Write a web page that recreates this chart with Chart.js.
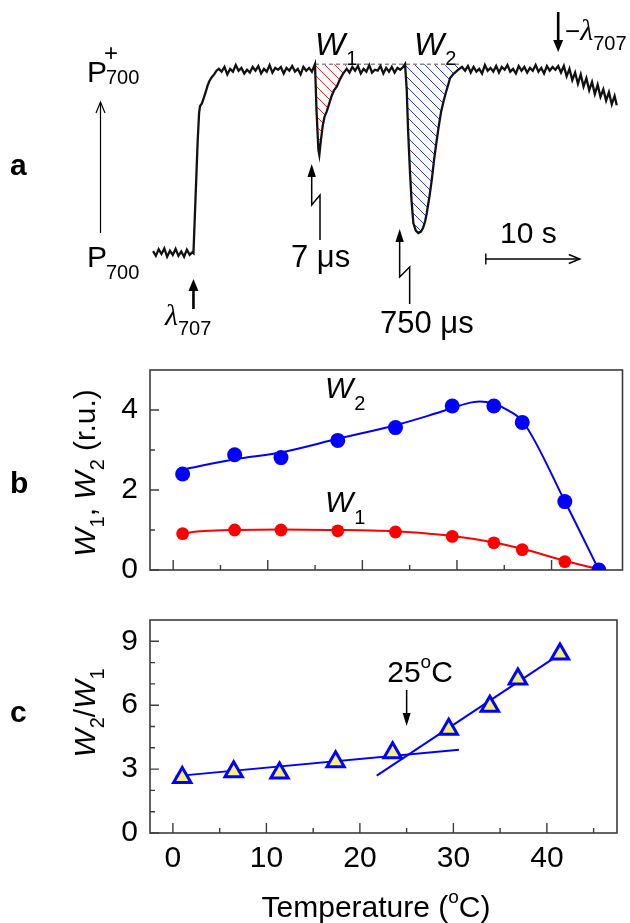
<!DOCTYPE html>
<html><head><meta charset="utf-8">
<script src="https://cdn.jsdelivr.net/npm/chart.js@4.4.1/dist/chart.umd.min.js"></script>
<style>
html,body{margin:0;padding:0;background:#fff;}
#wrap{position:relative;width:630px;height:923px;overflow:hidden;background:#fff;}
canvas{position:absolute;left:0;}
</style></head><body>
<div id="wrap">
<canvas id="ca" width="630" height="340" style="top:0;width:630px;height:340px"></canvas>
<canvas id="cb" width="630" height="260" style="top:340px;width:630px;height:260px"></canvas>
<canvas id="cc" width="630" height="333" style="top:590px;width:630px;height:333px"></canvas>
</div>
<script>
// ================= DATA =================
// Panel a: P700 trace, time (s) and relative oxidation level (0 = P700, 1 = P700+)
const traceT = [
  0,0.3,0.6,0.9,1.2,1.5,1.8,2.1,2.4,2.7,3.0,3.3,3.6,3.9,4.2,
  4.3,4.45,4.6,4.75,4.9,5.0,5.2,5.4,5.6,5.8,6.0,6.25,6.5,6.75,7.0,
  7.3,7.6,7.9,8.2,8.5,8.8,9.1,9.4,9.7,10.0,10.3,10.6,10.9,11.2,11.5,11.8,12.1,12.4,12.7,13.0,13.3,13.6,13.9,14.2,14.5,14.8,15.1,15.4,15.7,16.0,16.3,16.6,16.9,
  17.23,17.39,17.59,17.69,17.85,18.05,18.25,18.47,18.75,19.0,19.25,19.54,19.9,20.24,20.6,
  20.9,21.2,21.5,21.8,22.1,22.4,22.7,23.0,23.3,23.6,23.9,24.2,24.5,24.8,25.1,25.4,25.7,26.0,26.3,26.6,
  26.81,26.99,27.13,27.34,27.5,27.69,27.95,28.22,28.5,28.72,28.95,29.12,29.4,29.65,29.9,30.18,30.4,30.64,30.9,31.17,31.4,31.6,32.0,32.45,32.87,
  33.2,33.5,33.8,34.1,34.4,34.7,35.0,35.3,35.6,35.9,36.2,36.5,36.8,37.1,37.4,37.7,38.0,38.3,38.6,38.9,39.2,39.5,39.8,40.1,40.4,40.7,41.0,41.3,41.6,41.9,42.2,42.5,42.8,43.1,
  43.4,43.7,44.0,44.3,44.6,44.9,45.2,45.5,45.8,46.1,46.4,46.7,47.0,47.3,47.6,47.9,48.2,48.5,48.8,49.1,49.33
];
const traceV = [
  0.01,-0.015,0.02,-0.005,0.025,-0.02,0.012,-0.01,0.022,-0.015,0.008,-0.02,0.018,-0.01,0.005,
  0,0.2,0.4,0.6,0.75,0.785,0.80,0.83,0.86,0.895,0.92,0.94,0.955,0.975,0.985,
  0.97,0.995,0.955,0.985,0.97,1.005,0.975,0.99,0.96,0.98,0.965,0.995,0.975,1.0,0.96,0.985,0.97,1.005,0.965,0.99,0.98,0.995,0.96,0.99,0.975,1.0,0.97,0.985,0.955,0.995,0.975,0.99,0.97,
  1.01,0.765,0.551,0.524,0.60,0.68,0.73,0.756,0.80,0.84,0.87,0.889,0.93,0.961,0.985,
  0.965,0.995,0.975,1.0,0.96,0.985,0.97,1.005,0.965,0.98,0.975,1.0,0.96,0.99,0.97,0.995,0.965,0.99,0.98,0.995,
  1.01,0.872,0.658,0.428,0.28,0.16,0.12,0.107,0.115,0.134,0.17,0.214,0.30,0.39,0.50,0.604,0.68,0.754,0.81,0.861,0.90,0.936,0.96,0.979,0.995,
  0.975,1.0,0.965,0.995,0.97,0.985,0.96,1.005,0.975,0.99,0.97,1.0,0.965,0.995,0.98,1.005,0.97,0.985,0.96,1.0,0.975,0.995,0.965,0.99,0.975,1.005,0.97,0.99,0.96,1.0,0.975,0.995,0.98,1.0,
  0.965,1.0,0.945,0.985,0.925,0.965,0.905,0.955,0.89,0.935,0.87,0.915,0.85,0.9,0.835,0.875,0.815,0.86,0.795,0.84,0.79
];
const lightOnT = 4.3;     // λ707 on
const flash1T = 17.23;    // 7 µs flash
const flash2T = 26.81;    // 750 µs flash
const lightOffT = 43.1;   // λ707 off
const w1Range = [17.23, 20.6];
const w2Range = [26.81, 32.87];
const oxLevel = 1.01;     // dashed P700+ level
const barStart = 35.4;    // scale bar start (s)
const barLen = 10;        // scale bar length (s)

// Panel b: W1, W2 vs temperature
const tempB = [1, 6.5, 11.4, 17.4, 23.5, 29.5, 33.9, 36.9, 41.4, 45];
const w2Vals = [2.40, 2.88, 2.81, 3.24, 3.56, 4.10, 4.10, 3.69, 1.71, 0.0];
const w1Vals = [0.91, 1.00, 1.00, 0.98, 0.95, 0.84, 0.68, 0.51, 0.21, 0.0];
const w2FitT = [1, 6.5, 11.4, 17.4, 23.5, 27, 29.5, 31, 32.4, 33.9, 35.5, 37, 41.4, 45];
const w2FitV = [2.51, 2.77, 2.94, 3.28, 3.62, 3.86, 4.05, 4.16, 4.21, 4.15, 3.98, 3.70, 1.72, 0.0];
const w1FitT = [1, 2.5, 4.5, 6.5, 11.4, 17.4, 21, 23.5, 26, 29.5, 33.9, 36.9, 41.4, 45];
const w1FitV = [0.91, 0.96, 0.99, 1.0, 1.01, 1.0, 0.99, 0.97, 0.93, 0.85, 0.69, 0.53, 0.23, 0.02];

// Panel c: W2/W1 vs temperature
const tempC = [1, 6.5, 11.4, 17.4, 23.5, 29.5, 33.9, 36.9, 41.4];
const ratioVals = [2.60, 2.88, 2.82, 3.34, 3.77, 4.87, 5.95, 7.23, 8.40];
const fitLowT = [0.3, 30.6];  const fitLowV = [2.67, 3.91];
const fitHighT = [21.8, 41.4]; const fitHighV = [2.69, 8.40];
const breakTemp = 25;

// Axes / ticks
const xRange = [-2.45, 47.5];
const xMajor = [0, 10, 20, 30, 40];
const xMinor = [5, 15, 25, 35, 45];
const yRangeB = [0, 5];  const yMajorB = [0, 2, 4];    const yMinorB = [1, 3];
const yRangeC = [0, 10]; const yMajorC = [0, 3, 6, 9]; const yMinorC = [1, 2, 4, 5, 7, 8];

// ================= HELPERS =================
const SANS = '"Liberation Sans", Arial, Helvetica, sans-serif';
const SERIF = '"Liberation Serif", "DejaVu Serif", serif';
Chart.defaults.font.family = SANS;
const f = (size, style, weight, fam) => `${style||'normal'} ${weight||'normal'} ${size}px ${fam||SANS}`;
const pts = (xs, ys) => xs.map((x, i) => ({x, y: ys[i]}));

function parts(ctx, list, x, y, align) {
  let total = 0;
  for (const p of list) { ctx.font = p.f; p.w = ctx.measureText(p.t).width; total += p.w + (p.gap || 0); }
  let cx = align === 'center' ? x - total / 2 : (align === 'right' ? x - total : x);
  ctx.textAlign = 'left';
  for (const p of list) { ctx.font = p.f; ctx.fillText(p.t, cx + (p.gap || 0), y + (p.dy || 0)); cx += p.w + (p.gap || 0); }
}
function arrow(ctx, pathPts, lw, len, hw, filled) {
  const n = pathPts.length;
  const [x2, y2] = pathPts[n - 1], [x1, y1] = pathPts[n - 2];
  const a = Math.atan2(y2 - y1, x2 - x1);
  ctx.lineWidth = lw;
  ctx.beginPath();
  ctx.moveTo(pathPts[0][0], pathPts[0][1]);
  for (let i = 1; i < n - 1; i++) ctx.lineTo(pathPts[i][0], pathPts[i][1]);
  const back = filled ? len * 0.6 : 0;
  ctx.lineTo(x2 - Math.cos(a) * back, y2 - Math.sin(a) * back);
  ctx.stroke();
  const bx = x2 - len * Math.cos(a), by = y2 - len * Math.sin(a);
  ctx.beginPath();
  ctx.moveTo(bx + hw * Math.sin(a), by - hw * Math.cos(a));
  ctx.lineTo(x2, y2);
  ctx.lineTo(bx - hw * Math.sin(a), by + hw * Math.cos(a));
  if (filled) { ctx.closePath(); ctx.fill(); } else ctx.stroke();
}
function hatch(color) {
  const c = document.createElement('canvas'); c.width = 10; c.height = 10;
  const g = c.getContext('2d');
  g.strokeStyle = color; g.lineWidth = 1;
  g.beginPath();
  g.moveTo(-1, -1); g.lineTo(11, 11);
  g.moveTo(9, -1); g.lineTo(11, 1);
  g.moveTo(-1, 9); g.lineTo(1, 11);
  g.stroke();
  return g.createPattern(c, 'repeat');
}

const frameTicks = {
  id: 'frameTicks',
  beforeDatasetsDraw(chart, args, o) {
    if (!o || !o.on) return;
    const {ctx, chartArea: a, scales: {x, y}} = chart;
    ctx.save();
    ctx.strokeStyle = '#3c3c3c';
    ctx.lineWidth = 1.6;
    ctx.strokeRect(a.left, a.top, a.right - a.left, a.bottom - a.top);
    ctx.lineWidth = 1.4;
    ctx.beginPath();
    o.xMajor.forEach(v => { const p = x.getPixelForValue(v); ctx.moveTo(p, a.bottom); ctx.lineTo(p, a.bottom - 10); });
    o.xMinor.forEach(v => { const p = x.getPixelForValue(v); ctx.moveTo(p, a.bottom); ctx.lineTo(p, a.bottom - 5); });
    o.yMajor.forEach(v => { const p = y.getPixelForValue(v); ctx.moveTo(a.left, p); ctx.lineTo(a.left + 9, p); });
    o.yMinor.forEach(v => { const p = y.getPixelForValue(v); ctx.moveTo(a.left, p); ctx.lineTo(a.left + 5, p); });
    ctx.stroke();
    ctx.restore();
  }
};
Chart.register(frameTicks);

const base = {
  responsive: false, animation: false, devicePixelRatio: 1, events: [],
  plugins: {legend: {display: false}, tooltip: {enabled: false}}
};

// ================= PANEL A =================
const traceAll = pts(traceT, traceV);
const w1Pts = traceAll.filter(p => p.x >= w1Range[0] && p.x <= w1Range[1]);
const w2Pts = traceAll.filter(p => p.x >= w2Range[0] && p.x <= w2Range[1]);

const annotA = {
  id: 'annotA',
  afterDatasetsDraw(chart) {
    const {ctx, scales: {x, y}} = chart;
    const X = v => x.getPixelForValue(v);
    ctx.save();
    ctx.fillStyle = '#000'; ctx.strokeStyle = '#000'; ctx.textBaseline = 'alphabetic';
    ctx.font = f(30, 'normal', 'bold'); ctx.fillText('a', 10, 175);
    ctx.font = f(30); ctx.fillText('P', 87, 82);
    ctx.font = f(24); ctx.fillText('+', 104, 61);
    ctx.font = f(20); ctx.fillText('700', 106, 84);
    ctx.font = f(30); ctx.fillText('P', 87, 267);
    ctx.font = f(20); ctx.fillText('700', 106, 279);
    arrow(ctx, [[100.5, 233], [100.5, 102]], 1.2, 11, 4.5, false);
    const xOn = X(lightOnT);
    arrow(ctx, [[xOn, 309], [xOn, 279]], 2.6, 12, 5, true);
    parts(ctx, [{t: 'λ', f: f(30, 'italic', 'normal', SERIF)}, {t: '707', f: f(20), dy: 10}], 165, 325, 'left');
    const xOff = X(lightOffT);
    arrow(ctx, [[xOff, 12], [xOff, 52]], 2.6, 12, 5, true);
    parts(ctx, [{t: '−', f: f(26)}, {t: 'λ', f: f(30, 'italic', 'normal', SERIF)}, {t: '707', f: f(20), dy: 10}], 565, 40, 'left');
    parts(ctx, [{t: 'W', f: f(32, 'italic')}, {t: '1', f: f(20), dy: 10, gap: 1}], 315, 55, 'left');
    parts(ctx, [{t: 'W', f: f(32, 'italic')}, {t: '2', f: f(20), dy: 10, gap: 1}], 414, 55, 'left');
    const x1 = X(flash1T);
    arrow(ctx, [[x1 + 5, 240], [x1 + 5, 195], [x1 - 3.3, 205], [x1 - 3.3, 164]], 1.5, 13, 4.2, true);
    const x2 = X(flash2T);
    arrow(ctx, [[x2 + 4.6, 304], [x2 + 4.6, 267], [x2 - 5.4, 277], [x2 - 5.4, 229]], 1.5, 13, 4.2, true);
    ctx.font = f(31); ctx.fillText('7 μs', 291, 267);
    ctx.font = f(31); ctx.fillText('750 μs', 380, 333);
    const b0 = X(barStart), b1 = X(barStart + barLen);
    ctx.lineWidth = 1.4;
    ctx.beginPath(); ctx.moveTo(b0, 253.5); ctx.lineTo(b0, 264.5); ctx.stroke();
    arrow(ctx, [[b0, 259], [b1, 259]], 1.4, 11, 4.5, false);
    ctx.font = f(30); ctx.fillText('10 s', 500, 243);
    ctx.restore();
  }
};

new Chart(document.getElementById('ca'), {
  type: 'scatter',
  data: {datasets: [
    {data: traceAll, showLine: true, borderColor: '#111', borderWidth: 2.3, pointRadius: 0, tension: 0, order: 0},
    {data: w1Pts, showLine: true, borderWidth: 0, borderColor: 'rgba(0,0,0,0)', pointRadius: 0,
     fill: {value: oxLevel}, backgroundColor: hatch('#ee2b2b'), order: 2},
    {data: w2Pts, showLine: true, borderWidth: 0, borderColor: 'rgba(0,0,0,0)', pointRadius: 0,
     fill: {value: oxLevel}, backgroundColor: hatch('#2b3cff'), order: 2},
    {data: [{x: w1Range[0], y: oxLevel}, {x: w2Range[1], y: oxLevel}], showLine: true, borderColor: '#8a8a8a',
     borderWidth: 1.5, borderDash: [4, 3], pointRadius: 0, order: 1}
  ]},
  options: Object.assign({}, base, {
    layout: {padding: 0},
    scales: {
      x: {type: 'linear', display: false, min: -16.28, max: 50.74},
      y: {type: 'linear', display: false, min: -0.465, max: 1.353}
    }
  }),
  plugins: [annotA]
});

// ================= PANEL B =================
const annotB = {
  id: 'annotB',
  afterDraw(chart) {
    const ctx = chart.ctx; const T = 340;
    ctx.save(); ctx.fillStyle = '#000'; ctx.textBaseline = 'alphabetic';
    ctx.font = f(30, 'normal', 'bold'); ctx.fillText('b', 10, 493 - T);
    parts(ctx, [{t: 'W', f: f(30, 'italic')}, {t: '2', f: f(20), dy: 12, gap: 1}], 325, 398 - T, 'left');
    parts(ctx, [{t: 'W', f: f(30, 'italic')}, {t: '1', f: f(20), dy: 12, gap: 1}], 325, 512 - T, 'left');
    ctx.translate(95, 473 - T); ctx.rotate(-Math.PI / 2);
    parts(ctx, [{t: 'W', f: f(30, 'italic')}, {t: '1', f: f(20), dy: 9, gap: 1}, {t: ', ', f: f(30)},
                {t: 'W', f: f(30, 'italic')}, {t: '2', f: f(20), dy: 9, gap: 1}, {t: ' (r.u.)', f: f(30)}], 0, 0, 'center');
    ctx.restore();
  }
};

new Chart(document.getElementById('cb'), {
  type: 'scatter',
  data: {datasets: [
    {data: pts(tempB, w2Vals), pointRadius: 7.5, pointBorderWidth: 0, backgroundColor: '#0000ff', order: 0},
    {data: pts(tempB, w1Vals), pointRadius: 6.4, pointBorderWidth: 0, backgroundColor: '#ff0000', order: 0},
    {data: pts(w2FitT, w2FitV), showLine: true, pointRadius: 0, borderColor: '#0000ff', borderWidth: 2, cubicInterpolationMode: 'monotone', order: 1},
    {data: pts(w1FitT, w1FitV), showLine: true, pointRadius: 0, borderColor: '#ff0000', borderWidth: 2, cubicInterpolationMode: 'monotone', order: 1}
  ]},
  options: Object.assign({}, base, {
    layout: {padding: {top: 13.3, bottom: 18.3, right: 1, left: 0}},
    plugins: Object.assign({}, base.plugins, {frameTicks: {on: true, xMajor, xMinor, yMajor: yMajorB, yMinor: yMinorB}}),
    scales: {
      x: {type: 'linear', display: false, min: xRange[0], max: xRange[1]},
      y: {type: 'linear', min: yRangeB[0], max: yRangeB[1],
          afterBuildTicks: s => { s.ticks = yMajorB.map(v => ({value: v})); },
          afterFit: s => { s.width = 150; },
          ticks: {font: {size: 30, family: SANS}, color: '#000', padding: 12},
          grid: {display: false, drawTicks: false}, border: {display: false}}
    }
  }),
  plugins: [annotB]
});

// ================= PANEL C =================
const annotC = {
  id: 'annotC',
  afterDraw(chart) {
    const {ctx, scales: {x}} = chart; const T = 590;
    ctx.save(); ctx.fillStyle = '#000'; ctx.strokeStyle = '#000'; ctx.textBaseline = 'alphabetic';
    ctx.font = f(30, 'normal', 'bold'); ctx.fillText('c', 10, 722 - T);
    const xb = x.getPixelForValue(breakTemp);
    parts(ctx, [{t: '25', f: f(30)}, {t: 'o', f: f(19), dy: -14}, {t: 'C', f: f(30)}], 420, 682 - T, 'center');
    arrow(ctx, [[xb, 690 - T], [xb, 726 - T]], 1.5, 13, 4, true);
    parts(ctx, [{t: 'Temperature (', f: f(30)}, {t: 'o', f: f(19), dy: -14}, {t: 'C)', f: f(30)}], 376, 917 - T, 'center');
    ctx.translate(95, 713 - T); ctx.rotate(-Math.PI / 2);
    parts(ctx, [{t: 'W', f: f(30, 'italic')}, {t: '2', f: f(20), dy: 9, gap: 1}, {t: '/', f: f(30)},
                {t: 'W', f: f(30, 'italic')}, {t: '1', f: f(20), dy: 9, gap: 1}], 0, 0, 'center');
    ctx.restore();
  }
};

new Chart(document.getElementById('cc'), {
  type: 'scatter',
  data: {datasets: [
    {data: pts(tempC, ratioVals), pointStyle: 'triangle', pointRadius: 10, pointBorderWidth: 3,
     borderColor: '#0000ff', backgroundColor: '#f4f07a', order: 0},
    {data: pts(fitLowT, fitLowV), showLine: true, pointRadius: 0, borderColor: '#0000ff', borderWidth: 2, order: 1},
    {data: pts(fitHighT, fitHighV), showLine: true, pointRadius: 0, borderColor: '#0000ff', borderWidth: 2, order: 1}
  ]},
  options: Object.assign({}, base, {
    layout: {padding: {top: 15, bottom: 0, right: 1, left: 0}},
    plugins: Object.assign({}, base.plugins, {frameTicks: {on: true, xMajor, xMinor, yMajor: yMajorC, yMinor: yMinorC}}),
    scales: {
      x: {type: 'linear', min: xRange[0], max: xRange[1],
          afterBuildTicks: s => { s.ticks = xMajor.map(v => ({value: v})); },
          afterFit: s => { s.height = 90; },
          ticks: {font: {size: 30, family: SANS}, color: '#000', padding: 8, maxRotation: 0},
          grid: {display: false, drawTicks: false}, border: {display: false}},
      y: {type: 'linear', min: yRangeC[0], max: yRangeC[1],
          afterBuildTicks: s => { s.ticks = yMajorC.map(v => ({value: v})); },
          afterFit: s => { s.width = 150; },
          ticks: {font: {size: 30, family: SANS}, color: '#000', padding: 12},
          grid: {display: false, drawTicks: false}, border: {display: false}}
    }
  }),
  plugins: [annotC]
});
</script>
</body></html>
